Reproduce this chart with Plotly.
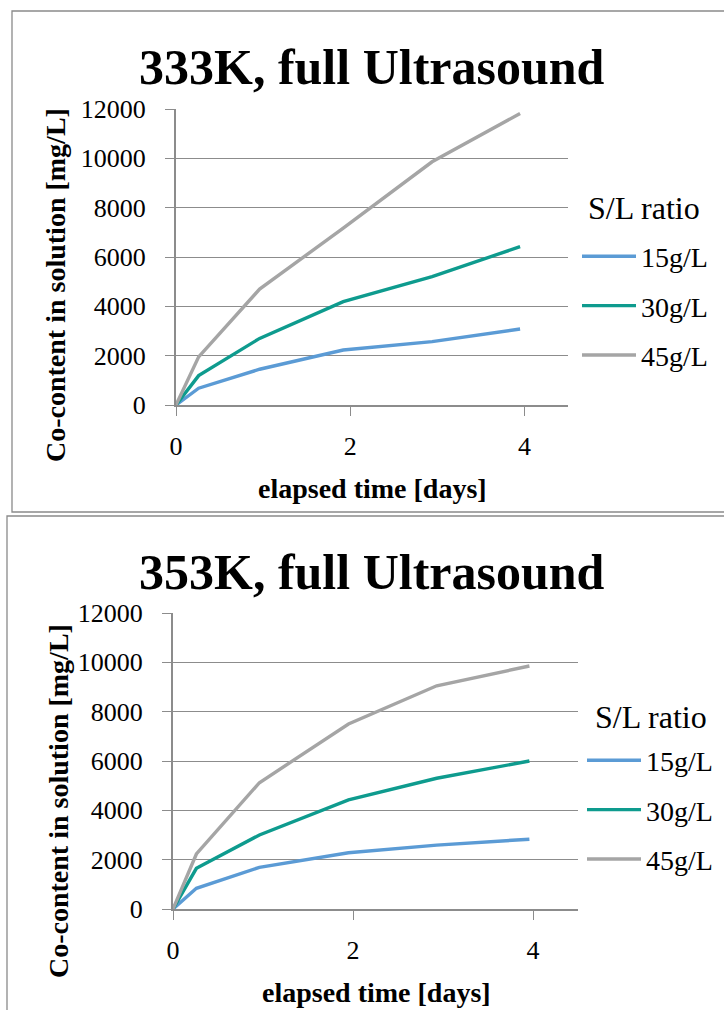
import plotly.graph_objects as go

# ---- data ----
days_333 = [0, 0.26, 0.96, 1.92, 2.94, 3.95]
co_333_15 = [0, 680, 1450, 2230, 2570, 3080]
co_333_30 = [0, 1190, 2700, 4190, 5200, 6420]
co_333_45 = [0, 1950, 4700, 7170, 9860, 11820]

days_353 = [0, 0.26, 0.96, 1.95, 2.93, 3.96]
co_353_15 = [0, 840, 1690, 2280, 2590, 2830]
co_353_30 = [0, 1650, 3000, 4420, 5300, 6000]
co_353_45 = [0, 2230, 5120, 7500, 9050, 9850]

series_names = ["15g/L", "30g/L", "45g/L"]
colors = ["#5b9bd5", "#0e9b8e", "#a5a5a5"]
titles = ["333K, full Ultrasound", "353K, full Ultrasound"]
y_title = "Co-content in solution [mg/L]"
x_title = "elapsed time [days]"
legend_title = "S/L ratio"

W, H = 724, 1010
FONT = "Liberation Serif"

def px(x):
    return x / W

def py(y):
    return 1 - y / H

fig = go.Figure()

for i, (ys, name) in enumerate(zip([co_333_15, co_333_30, co_333_45], series_names)):
    fig.add_trace(go.Scatter(x=days_333, y=ys, mode="lines", name=name,
                             line=dict(color=colors[i], width=3.4),
                             xaxis="x", yaxis="y", legend="legend",
                             legendgroup="a" + name))
for i, (ys, name) in enumerate(zip([co_353_15, co_353_30, co_353_45], series_names)):
    fig.add_trace(go.Scatter(x=days_353, y=ys, mode="lines", name=name,
                             line=dict(color=colors[i], width=3.4),
                             xaxis="x2", yaxis="y2", legend="legend2",
                             legendgroup="b" + name))

axis_col = "#8c8c8c"
common_x = dict(range=[0, 4.5], tickvals=[0, 2, 4], showgrid=False, zeroline=False,
                showline=True, linecolor=axis_col, linewidth=2, automargin=False,
                ticks="outside", ticklen=9, tickcolor=axis_col, tickwidth=1.3,
                ticklabelstandoff=8,
                tickfont=dict(family=FONT, size=26, color="black"))
common_y = dict(range=[0, 12000], tickvals=list(range(0, 12001, 2000)), tickformat="d",
                showgrid=True, gridcolor=axis_col, gridwidth=1.3, zeroline=False,
                showline=True, linecolor=axis_col, linewidth=2, automargin=False,
                ticks="outside", ticklen=9, tickcolor=axis_col, tickwidth=1.3,
                ticklabelstandoff=14,
                tickfont=dict(family=FONT, size=26, color="black"))

leg_common = dict(xanchor="left", yanchor="middle", xref="paper", yref="paper",
                  font=dict(family=FONT, size=28, color="black"), itemwidth=54,
                  tracegroupgap=10, bgcolor="rgba(0,0,0,0)", borderwidth=0)

fig.update_layout(
    width=W, height=H, autosize=False,
    margin=dict(l=0, r=0, t=0, b=0, pad=0),
    paper_bgcolor="white", plot_bgcolor="white",
    showlegend=True,
    xaxis=dict(domain=[px(176), px(568)], anchor="y", **common_x),
    yaxis=dict(domain=[py(405), py(109)], anchor="x", **common_y),
    xaxis2=dict(domain=[px(173), px(578)], anchor="y2", **common_x),
    yaxis2=dict(domain=[py(909), py(613)], anchor="x2", **common_y),
    legend=dict(x=px(577), y=py(306), **leg_common),
    legend2=dict(x=px(582), y=py(810), **leg_common),
)

# chart frames
fig.add_shape(type="rect", xref="paper", yref="paper",
              x0=px(12), x1=1.02, y0=py(512), y1=py(11),
              line=dict(color="#8a8a8a", width=1.3), fillcolor="rgba(0,0,0,0)", layer="below")
fig.add_shape(type="rect", xref="paper", yref="paper",
              x0=px(7), x1=1.02, y0=-0.02, y1=py(516),
              line=dict(color="#8a8a8a", width=1.3), fillcolor="rgba(0,0,0,0)", layer="below")

annos = []
for t, yc in zip(titles, [67, 572]):
    annos.append(dict(text="<b>%s</b>" % t, x=px(372), y=py(yc), xref="paper", yref="paper",
                      showarrow=False, xanchor="center", yanchor="middle",
                      font=dict(family=FONT, size=50, color="black")))
for xc, yc in [(55, 285), (58, 801)]:
    annos.append(dict(text="<b>%s</b>" % y_title, x=px(xc), y=py(yc), xref="paper", yref="paper",
                      showarrow=False, xanchor="center", yanchor="middle", textangle=-90,
                      font=dict(family=FONT, size=28, color="black")))
for xc, yc in [(372, 488), (376, 992)]:
    annos.append(dict(text="<b>%s</b>" % x_title, x=px(xc), y=py(yc), xref="paper", yref="paper",
                      showarrow=False, xanchor="center", yanchor="middle",
                      font=dict(family=FONT, size=28, color="black")))
for xl, yc in [(586, 208), (593, 717)]:
    annos.append(dict(text=legend_title, x=px(xl), y=py(yc), xref="paper", yref="paper",
                      showarrow=False, xanchor="left", yanchor="middle",
                      font=dict(family=FONT, size=32, color="black")))
fig.update_layout(annotations=annos)

fig.write_html("out.html",
               post_script="document.body.style.margin='0';document.body.style.padding='0';")
